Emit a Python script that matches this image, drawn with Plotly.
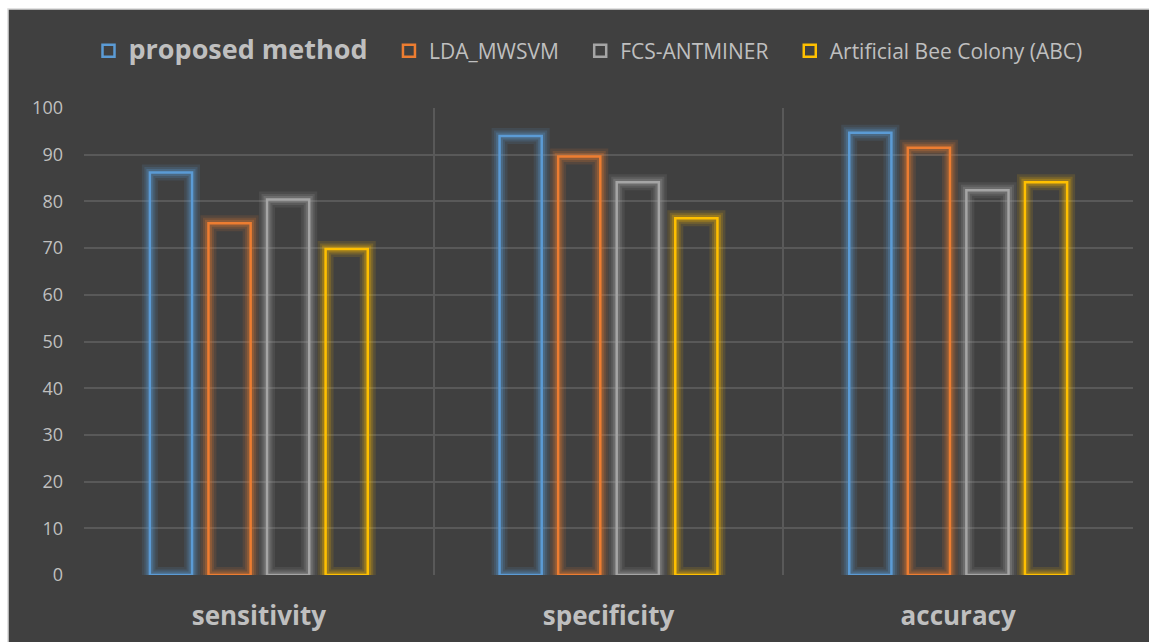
import plotly.graph_objects as go

categories = ["sensitivity", "specificity", "accuracy"]
series_names = ["proposed method", "LDA_MWSVM", "FCS-ANTMINER", "Artificial Bee Colony (ABC)"]
proposed = [86.2, 94.0, 94.7]
lda_mwsvm = [75.3, 89.6, 91.5]
fcs_antminer = [80.4, 84.1, 82.4]
abc = [69.8, 76.4, 84.1]

series_values = [proposed, lda_mwsvm, fcs_antminer, abc]
colors = ["#5B9BD5", "#ED7D31", "#A5A5A5", "#FFC000"]
rgb = ["91,155,213", "237,125,49", "165,165,165", "255,192,0"]
legend_labels = [
    "<b><span style='font-size:27px'>proposed method</span></b>   ",
    "LDA_MWSVM   ",
    "FCS-ANTMINER   ",
    "Artificial Bee Colony (ABC)",
]

W, H = 1149, 642
ml, mr, mt, mb = 84, 16, 108, 67
BG = "#404040"
TXT = "#BFBFBF"
GRID = "#595959"

fig = go.Figure()
for i, (name, vals) in enumerate(zip(series_names, series_values)):
    # soft glow layers
    for w, a in [(16, 0.12), (11, 0.17), (7, 0.25)]:
        fig.add_trace(go.Bar(
            x=categories, y=vals, offsetgroup=str(i), showlegend=False, hoverinfo="skip",
            marker=dict(color="rgba(0,0,0,0)", line=dict(color=f"rgba({rgb[i]},{a})", width=w)),
        ))
    fig.add_trace(go.Bar(
        x=categories, y=vals, offsetgroup=str(i), name=legend_labels[i],
        marker=dict(color="rgba(0,0,0,0)", line=dict(color=colors[i], width=2.5)),
    ))

pw = W - ml - mr
ph = H - mt - mb
# dark chart panel (white strip at top/left as in reference)
fig.add_shape(type="rect", xref="paper", yref="paper", layer="below",
              x0=(8 - ml) / pw, x1=(W + 5 - ml) / pw,
              y0=-(mb + 5) / ph, y1=1 + (mt - 9) / ph,
              fillcolor=BG, line=dict(color="#D9D9D9", width=1.5))

fig.update_layout(
    width=W, height=H,
    margin=dict(l=ml, r=mr, t=mt, b=mb, autoexpand=False),
    paper_bgcolor="#FFFFFF",
    plot_bgcolor=BG,
    barmode="group",
    bargap=0.33,
    bargroupgap=0.28,
    font=dict(family="Open Sans, Noto Sans, sans-serif", color=TXT, size=18),
    legend=dict(orientation="h", xref="container", yref="container",
                x=588 / W, xanchor="center", y=1 - 51 / H, yanchor="middle",
                font=dict(size=21, color=TXT), bgcolor="rgba(0,0,0,0)",
                itemwidth=30, tracegroupgap=0),
    xaxis=dict(tickson="boundaries", showgrid=True, gridcolor=GRID, gridwidth=1.5,
               ticks="", tickfont=dict(size=26, color=TXT, family="Open Sans, sans-serif"),
               tickprefix="<b>", ticksuffix="</b>", ticklabelstandoff=23,
               zeroline=False, showline=False, automargin=False),
    yaxis=dict(range=[0, 100], dtick=10, showgrid=True, gridcolor=GRID, gridwidth=1.5,
               zeroline=False, ticks="", tickfont=dict(size=18, color=TXT),
               ticklabelstandoff=20, showline=False, automargin=False),
)

fig.write_html("out.html")
